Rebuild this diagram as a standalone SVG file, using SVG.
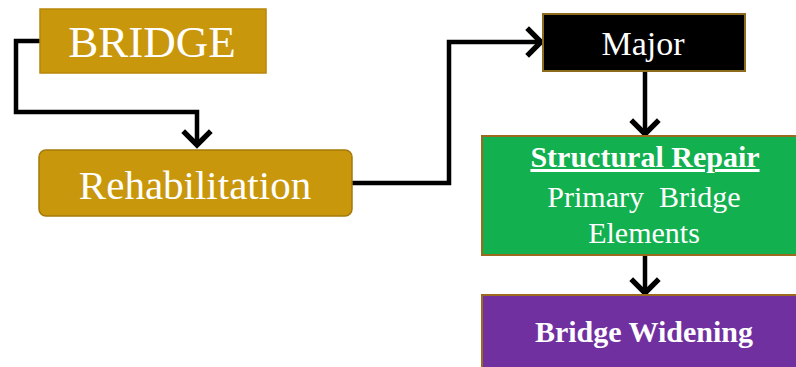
<svg xmlns="http://www.w3.org/2000/svg" width="796" height="367" viewBox="0 0 796 367">
<defs>
<marker id="chev" markerUnits="userSpaceOnUse" markerWidth="34" markerHeight="34" refX="0" refY="0" viewBox="-17 -16 20 32" orient="auto" overflow="visible">
<path d="M-14,-13 L-1,0 L-14,13" fill="none" stroke="#000" stroke-width="5" stroke-linejoin="miter"/>
</marker>
<style>
.conn{fill:none;stroke:#000;stroke-width:4.5;stroke-linejoin:miter;marker-end:url(#chev)}
.t{font-family:"Liberation Serif","Times New Roman",serif;fill:#fff;text-anchor:middle}
.b{font-weight:bold}
</style>
</defs>
<rect width="796" height="367" fill="#fff"/>
<g id="connectors">
<path class="conn" d="M40,41 H16 V112 H197 V146"/>
<path class="conn" d="M352,183 H449 V42 H542"/>
<path class="conn" d="M645,71 V135"/>
<path class="conn" d="M645,255 V294"/>
</g>
<g id="bridge">
<rect x="40" y="9" width="226" height="64" fill="#C9970B" stroke="#B8860B" stroke-width="1.5"/>
<text class="t" x="152" y="57" font-size="45">BRIDGE</text>
</g>
<g id="rehabilitation">
<rect x="39" y="150" width="313" height="66" rx="7" fill="#C9970B" stroke="#A57A0A" stroke-width="1.5"/>
<text class="t" x="195" y="199" font-size="41">Rehabilitation</text>
</g>
<g id="major">
<rect x="543" y="14" width="202" height="57" fill="#000" stroke="#8B6B1E" stroke-width="2"/>
<text class="t" x="643" y="55" font-size="34">Major</text>
</g>
<g id="structural">
<rect x="482" y="136" width="316" height="119" fill="#12B04F" stroke="#9C6A1E" stroke-width="2"/>
<text class="t b" x="645" y="167" font-size="30" text-decoration="underline">Structural Repair</text>
<text class="t" x="644" y="207" font-size="30" xml:space="preserve">Primary  Bridge</text>
<text class="t" x="644" y="243" font-size="30">Elements</text>
</g>
<g id="widening">
<rect x="482" y="295" width="316" height="80" fill="#7030A0" stroke="#9C6A1E" stroke-width="2"/>
<text class="t b" x="644" y="342" font-size="30">Bridge Widening</text>
</g>
</svg>
